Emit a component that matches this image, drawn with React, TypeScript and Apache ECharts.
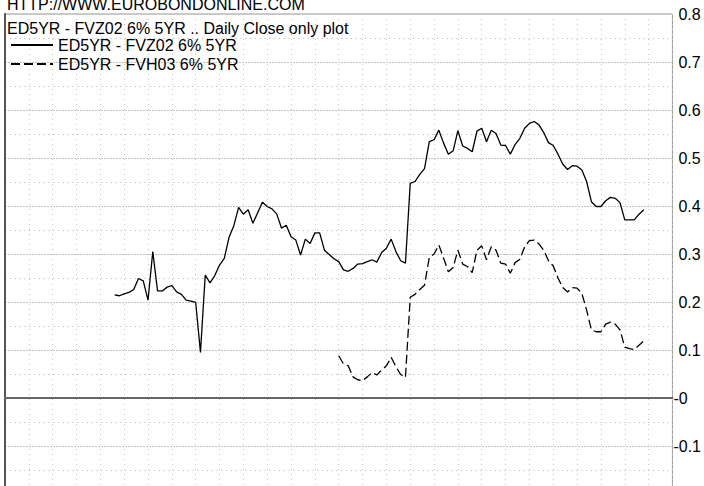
import React, { useEffect, useRef } from "react";
import * as echarts from "echarts";

// Day slots on the horizontal axis (5 trading days per grid column)
const dayCount = 140;
const weekInterval = 5;

const siteLabel = "HTTP://WWW.EUROBONDONLINE.COM";
const chartTitle = "ED5YR - FVZ02 6% 5YR .. Daily Close only plot";
const seriesNames = ["ED5YR - FVZ02 6% 5YR", "ED5YR - FVH03 6% 5YR"];

// Solid series: starts at day 23
const fvz02Start = 23;
const fvz02Values = [
  0.215, 0.213, 0.217, 0.22, 0.226, 0.249, 0.244, 0.204, 0.305, 0.223,
  0.223, 0.231, 0.234, 0.221, 0.216, 0.204, 0.202, 0.199, 0.095, 0.256,
  0.24, 0.255, 0.277, 0.291, 0.335, 0.359, 0.397, 0.383, 0.392, 0.364,
  0.386, 0.408, 0.399, 0.394, 0.383, 0.354, 0.36, 0.336, 0.329, 0.298,
  0.331, 0.322, 0.344, 0.344, 0.308, 0.299, 0.29, 0.284, 0.267, 0.264,
  0.27, 0.279, 0.28, 0.284, 0.288, 0.283, 0.303, 0.312, 0.331, 0.305,
  0.286, 0.281, 0.447, 0.451, 0.466, 0.478, 0.534, 0.538, 0.558, 0.531,
  0.508, 0.515, 0.557, 0.525, 0.52, 0.513, 0.556, 0.562, 0.534, 0.558,
  0.551, 0.527, 0.526, 0.508, 0.528, 0.541, 0.562, 0.572, 0.576, 0.569,
  0.553, 0.532, 0.526, 0.508, 0.487, 0.476, 0.484, 0.483, 0.475, 0.451,
  0.409, 0.399, 0.399, 0.411, 0.418, 0.416, 0.407, 0.371, 0.371, 0.371,
  0.383, 0.392,
];

// Dashed series: starts at day 70
const fvh03Start = 70;
const fvh03Values = [
  0.088, 0.071, 0.067, 0.044, 0.038, 0.036, 0.044, 0.053, 0.048, 0.058,
  0.067, 0.085, 0.065, 0.049, 0.043, 0.21, 0.216, 0.226, 0.235, 0.293,
  0.3, 0.319, 0.291, 0.263, 0.272, 0.308, 0.279, 0.274, 0.261, 0.308,
  0.317, 0.288, 0.315, 0.308, 0.281, 0.279, 0.26, 0.282, 0.289, 0.315,
  0.328, 0.329, 0.321, 0.308, 0.286, 0.275, 0.25, 0.23, 0.221, 0.23,
  0.229, 0.218, 0.183, 0.142, 0.138, 0.138, 0.154, 0.158, 0.154, 0.142,
  0.106, 0.103, 0.101, 0.11, 0.119,
];

// Value axis
const yMin = -0.2;
const yMax = 0.8;
const yStep = 0.1;

const FONT = "'Liberation Sans', Arial, Helvetica, sans-serif";
const FS = 16;

function toPairs(start: number, values: number[]) {
  return values.map((v, k) => [start + k, v]);
}

export default function App() {
  const ref = useRef<HTMLDivElement>(null);

  useEffect(() => {
    if (!ref.current) return;
    const chart = echarts.init(ref.current, null, { renderer: "svg" });
    chart.setOption({
      animation: false,
      backgroundColor: "#ffffff",
      textStyle: { fontFamily: FONT },
      title: [
        {
          text: siteLabel,
          left: 7,
          top: -4,
          padding: 0,
          textStyle: { fontSize: FS, fontWeight: "normal", color: "#000", fontFamily: FONT },
        },
        {
          text: chartTitle,
          left: 7,
          top: 20,
          padding: 0,
          textStyle: { fontSize: FS, fontWeight: "normal", color: "#000", fontFamily: FONT },
        },
      ],
      legend: {
        orient: "vertical",
        left: 10,
        top: 37,
        padding: 0,
        itemWidth: 42,
        itemHeight: 14,
        itemGap: 3,
        selectedMode: false,
        data: seriesNames,
        itemStyle: { opacity: 0 },
        textStyle: { fontSize: FS, color: "#000", fontFamily: FONT },
      },
      grid: {
        left: 5,
        right: 28,
        top: 14,
        height: 480,
        show: true,
        borderColor: "#999",
        borderWidth: 1,
        backgroundColor: "transparent",
      },
      xAxis: {
        type: "value",
        min: 0,
        max: dayCount,
        interval: weekInterval,
        axisLabel: { show: false },
        axisTick: { show: false },
        axisLine: { show: true, onZero: true, lineStyle: { color: "#666", width: 2 } },
        splitLine: {
          show: true,
          lineStyle: { color: "#c4c4c4", width: 1, type: [1, 4] },
        },
      },
      yAxis: [
        {
          type: "value",
          position: "right",
          min: yMin,
          max: yMax,
          interval: yStep,
          axisLine: { show: true, lineStyle: { color: "#000", width: 1 } },
          axisTick: { show: false },
          axisLabel: {
            margin: 1,
            fontSize: FS,
            color: "#000",
            fontFamily: FONT,
            showMinLabel: false,
            formatter: (v: number) => {
              if (Math.abs(v) < 1e-9) return "{n|-0}";
              const s = v.toFixed(1);
              return v < 0 ? "{n|" + s + "}" : "{p|" + s + "}";
            },
            rich: {
              p: { padding: [0, 0, 0, 5], fontSize: FS, color: "#000", fontFamily: FONT },
              n: { fontSize: FS, color: "#000", fontFamily: FONT },
            },
          },
          splitLine: {
            show: true,
            lineStyle: { color: "#c4c4c4", width: 1, type: [2, 1] },
          },
          minorTick: { show: false, splitNumber: 2 },
          minorSplitLine: {
            show: true,
            lineStyle: { color: "#c8c8c8", width: 1, type: [1.5, 3.3] },
          },
        },
        {
          type: "value",
          position: "left",
          min: yMin,
          max: yMax,
          interval: yStep,
          axisLine: { show: true, lineStyle: { color: "#555", width: 2 } },
          axisTick: { show: false },
          axisLabel: { show: false },
          splitLine: { show: false },
        },
      ],
      series: [
        {
          name: seriesNames[0],
          type: "line",
          yAxisIndex: 0,
          symbol: "none",
          data: toPairs(fvz02Start, fvz02Values),
          lineStyle: { color: "#000", width: 1.3, type: "solid" },
          itemStyle: { color: "#000" },
        },
        {
          name: seriesNames[1],
          type: "line",
          yAxisIndex: 0,
          symbol: "none",
          data: toPairs(fvh03Start, fvh03Values),
          lineStyle: { color: "#000", width: 1.3, type: [9, 4] },
          itemStyle: { color: "#000" },
        },
      ],
    });
    return () => chart.dispose();
  }, []);

  return (
    <div
      ref={ref}
      style={{ position: "fixed", left: 0, top: 0, width: 704, height: 520, background: "#fff" }}
    />
  );
}
